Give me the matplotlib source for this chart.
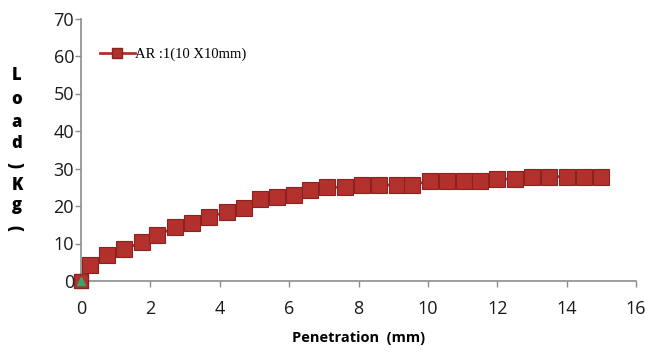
import matplotlib
matplotlib.use('Agg')
import matplotlib.pyplot as plt
from matplotlib.lines import Line2D

# penetration (mm) vs load (kg)
penetration = [0.25, 0.75, 1.25, 1.75, 2.2, 2.7, 3.2, 3.7, 4.2, 4.7, 5.15, 5.65,
               6.15, 6.6, 7.1, 7.6, 8.1, 8.6, 9.1, 9.55, 10.05, 10.55, 11.05,
               11.5, 12.0, 12.5, 13.0, 13.5, 14.0, 14.5, 15.0]
load = [4.3, 6.9, 8.5, 10.3, 12.2, 14.3, 15.5, 17.2, 18.4, 19.5, 21.8, 22.3,
        23.0, 24.2, 25.0, 25.0, 25.6, 25.6, 25.6, 25.6, 26.7, 26.7, 26.7,
        26.7, 27.2, 27.2, 27.8, 27.8, 27.8, 27.8, 27.8]
origin_x = [0]
origin_y = [0]
x_ticks = [0, 2, 4, 6, 8, 10, 12, 14, 16]
y_ticks = [0, 10, 20, 30, 40, 50, 60, 70]
ylabel_chars = ['L', 'o', 'a', 'd', '(', 'K', 'g', ')']
series_name = 'AR :1(10 X10mm)'

red = '#b3312c'
edge = '#8a2320'
axis_grey = '#8c8c8c'

fig = plt.figure(figsize=(6.45, 3.56), dpi=100)
ax = fig.add_axes([81/645, 1-281/356, (636-81)/645, (281-18.5)/356])

ax.plot(origin_x, origin_y, marker='s', color=red, markersize=10,
        markeredgecolor=edge, linestyle='none', clip_on=False, zorder=3)
ax.plot(origin_x, origin_y, marker='^', color='#3aa56b', markersize=6,
        linestyle='none', clip_on=False, zorder=4)
ax.plot([0] + penetration, [0] + load, color=red, linewidth=2, marker='s',
        markersize=11, markeredgecolor=edge, markeredgewidth=0.8,
        markevery=list(range(1, len(penetration) + 1)), clip_on=False, zorder=3)

ax.set_xlim(0, 16)
ax.set_ylim(0, 70)
ax.set_xticks(x_ticks)
ax.set_yticks(y_ticks)
ax.tick_params(axis='both', colors=axis_grey, labelcolor='#1a1a1a',
               labelsize=13, length=4, width=1, direction='out')
ax.tick_params(axis='x', pad=10)
ax.tick_params(axis='y', pad=1)
for lbl in ax.get_xticklabels() + ax.get_yticklabels():
    lbl.set_family('Open Sans')

for s in ['top', 'right']:
    ax.spines[s].set_visible(False)
for s in ['left', 'bottom']:
    ax.spines[s].set_color(axis_grey)
    ax.spines[s].set_linewidth(1.2)

ax.set_xlabel('Penetration  (mm)', fontsize=10.5, fontweight='bold',
              family='Open Sans', labelpad=9)

# stacked vertical y label
y_pos = [76, 100, 122, 143, 165, 185, 206, 228]
for ch, yp in zip(ylabel_chars, y_pos):
    rot = 90 if ch in '()' else 0
    fig.text(17/645, 1-yp/356, ch, fontsize=12, fontweight='heavy',
             family='Open Sans', ha='center', va='center', rotation=rot)

handle = Line2D([], [], color=red, linewidth=2, marker='s', markersize=7.5,
                markeredgecolor=edge)
leg = ax.legend([handle], [series_name], loc='upper left',
                bbox_to_anchor=(0.01, 0.94), frameon=False, handlelength=2.4,
                handletextpad=0.05, prop={'family': 'Liberation Serif', 'size': 10.5})

fig.savefig('out.png', dpi=100)
